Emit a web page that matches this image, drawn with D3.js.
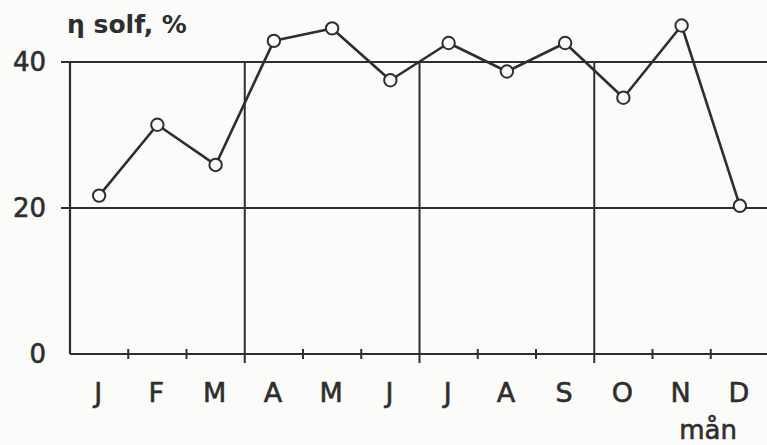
<!DOCTYPE html>
<html lang="sv">
<head>
  <meta charset="UTF-8" />
  <title>η solf per månad</title>
  <script src="https://cdn.jsdelivr.net/npm/d3@7/dist/d3.min.js"></script>
  <style>
    html, body { margin: 0; padding: 0; background: #fbfbf9; }
    svg { display: block; font-family: "DejaVu Sans", Arial, sans-serif; }
    .lbl { stroke: #2e2e2e; stroke-width: 0.6; }
  </style>
</head>
<body>
  <div id="chart"></div>
  <script>
    // månader och verkningsgrad (läst ur bilden)
    const months = ["J", "F", "M", "A", "M", "J", "J", "A", "S", "O", "N", "D"];
    const etaSolf = [21.7, 31.4, 25.9, 42.9, 44.6, 37.5, 42.6, 38.7, 42.6, 35.1, 45.0, 20.3];
    const yTicks = [0, 20, 40];
    const quarterBounds = [3, 6, 9];
    const minorBounds = [1, 2, 4, 5, 7, 8, 10, 11];

    const width = 767, height = 445;
    const ink = "#2e2e2e";

    const svg = d3.select("#chart").append("svg")
      .attr("width", width)
      .attr("height", height);

    // x: månadsgränser 0..12, y: procent
    const x = d3.scaleLinear().domain([0, 12]).range([70, 769]);
    const y = d3.scaleLinear().domain([0, 40]).range([354, 62]);

    // horisontella linjer vid 20 och 40
    svg.selectAll("line.h")
      .data(yTicks.filter(d => d > 0))
      .enter().append("line")
      .attr("x1", x(0) - 9).attr("x2", width)
      .attr("y1", d => y(d)).attr("y2", d => y(d))
      .attr("stroke", ink).attr("stroke-width", 2);

    // kvartalslinjer
    svg.selectAll("line.q")
      .data(quarterBounds)
      .enter().append("line")
      .attr("x1", d => x(d)).attr("x2", d => x(d))
      .attr("y1", y(40)).attr("y2", y(0) + 9)
      .attr("stroke", ink).attr("stroke-width", 2);

    // små streck
    svg.selectAll("line.t")
      .data(minorBounds)
      .enter().append("line")
      .attr("x1", d => x(d)).attr("x2", d => x(d))
      .attr("y1", y(0) - 5).attr("y2", y(0) + 5)
      .attr("stroke", ink).attr("stroke-width", 2);

    // axlar
    svg.append("line")
      .attr("x1", x(0)).attr("x2", width)
      .attr("y1", y(0)).attr("y2", y(0))
      .attr("stroke", ink).attr("stroke-width", 2.2);
    svg.append("line")
      .attr("x1", x(0)).attr("x2", x(0))
      .attr("y1", y(40)).attr("y2", y(0))
      .attr("stroke", ink).attr("stroke-width", 2.2);

    // y-etiketter
    svg.selectAll("text.y")
      .data(yTicks)
      .enter().append("text")
      .attr("class", "lbl")
      .attr("x", 46)
      .attr("y", d => y(d))
      .attr("dy", "0.36em")
      .attr("text-anchor", "end")
      .attr("font-size", 26)
      .attr("fill", ink)
      .text(d => d);

    // månadsetiketter
    svg.selectAll("text.m")
      .data(months)
      .enter().append("text")
      .attr("class", "lbl")
      .attr("x", (d, i) => x(i + 0.5) - 1)
      .attr("y", 402)
      .attr("text-anchor", "middle")
      .attr("font-size", 27)
      .attr("fill", ink)
      .text(d => d);

    svg.append("text")
      .attr("class", "lbl")
      .attr("x", 708).attr("y", 439)
      .attr("text-anchor", "middle")
      .attr("font-size", 26)
      .attr("fill", ink)
      .text("mån");

    svg.append("text")
      .attr("x", 67).attr("y", 33)
      .attr("font-size", 25)
      .attr("font-weight", "bold")
      .attr("fill", ink)
      .text("η solf, %");

    // kurva
    const line = d3.line()
      .x((d, i) => x(i + 0.5))
      .y(d => y(d));

    svg.append("path")
      .datum(etaSolf)
      .attr("d", line)
      .attr("fill", "none")
      .attr("stroke", ink)
      .attr("stroke-width", 2.6)
      .attr("stroke-linejoin", "round");

    svg.selectAll("circle")
      .data(etaSolf)
      .enter().append("circle")
      .attr("cx", (d, i) => x(i + 0.5))
      .attr("cy", d => y(d))
      .attr("r", 6.2)
      .attr("fill", "#fbfbf9")
      .attr("stroke", ink)
      .attr("stroke-width", 2);
  </script>
</body>
</html>
